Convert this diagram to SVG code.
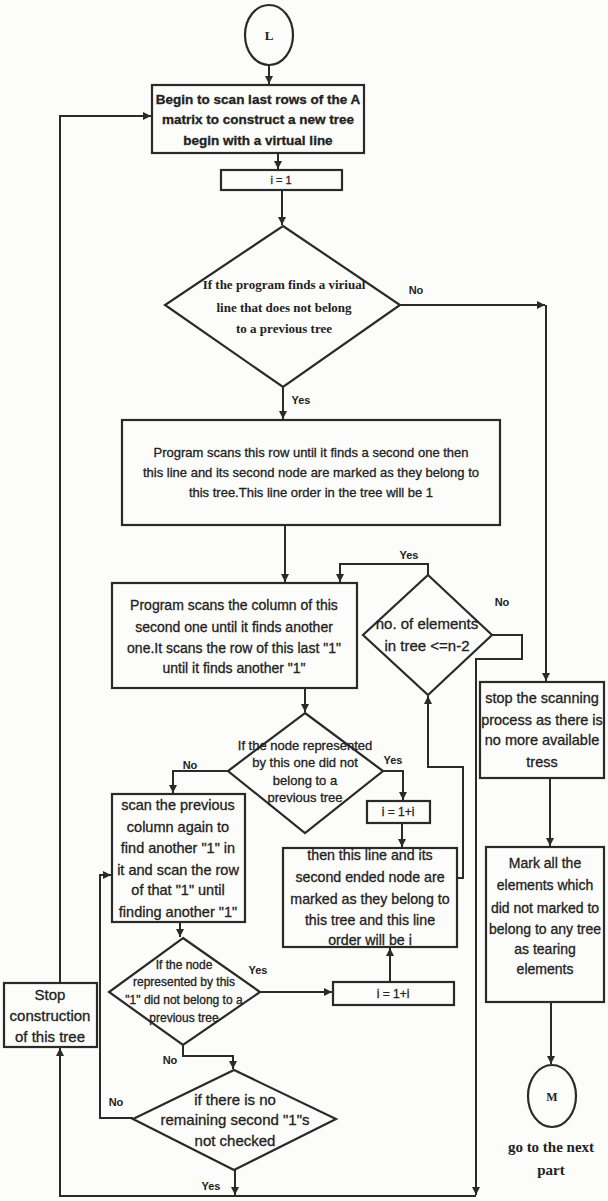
<svg xmlns="http://www.w3.org/2000/svg" width="608" height="1201" viewBox="0 0 608 1201">
<defs>
<marker id="ah" markerUnits="userSpaceOnUse" markerWidth="9" markerHeight="8" refX="8" refY="4" orient="auto">
<path d="M0,0 L8,4 L0,8 Z" fill="#2a2a2a"/>
</marker>
<style>
.bx{fill:none;stroke:#2a2a2a;stroke-width:2.2}
.ln{fill:none;stroke:#2a2a2a;stroke-width:2}
.t{font-family:"Liberation Sans",Arial,sans-serif;fill:#222;text-anchor:middle;stroke:#222;stroke-width:0.3}
.b{font-weight:bold}
.sf{font-family:"Liberation Serif","Times New Roman",serif;font-weight:bold;fill:#222;text-anchor:middle}
.lb{font-family:"Liberation Sans",Arial,sans-serif;font-weight:bold;font-size:11px;fill:#222;text-anchor:middle}
</style>
</defs>
<rect width="608" height="1201" fill="#fcfcfa"/>

<g id="connectors">
<path class="ln" d="M269,65 V84" marker-end="url(#ah)"/>
<path class="ln" d="M278,153 V169" marker-end="url(#ah)"/>
<path class="ln" d="M282,190 V225" marker-end="url(#ah)"/>
<path class="ln" d="M400,305 H545" marker-end="url(#ah)"/>
<path class="ln" d="M546,305 V681" marker-end="url(#ah)"/>
<path class="ln" d="M283,387 V419" marker-end="url(#ah)"/>
<path class="ln" d="M285,525 V582" marker-end="url(#ah)"/>
<path class="ln" d="M428,575 V564 H340 V582" marker-end="url(#ah)"/>
<path class="ln" d="M492,635 H522 V659 H476 V1195" marker-end="url(#ah)"/>
<path class="ln" d="M305,688 V712" marker-end="url(#ah)"/>
<path class="ln" d="M228,771 H173 V793" marker-end="url(#ah)"/>
<path class="ln" d="M383,771 H403 V800" marker-end="url(#ah)"/>
<path class="ln" d="M402,823 V847" marker-end="url(#ah)"/>
<path class="ln" d="M457,878 H463 V767 H428 V696" marker-end="url(#ah)"/>
<path class="ln" d="M550,778 V846" marker-end="url(#ah)"/>
<path class="ln" d="M551,1002 V1064" marker-end="url(#ah)"/>
<path class="ln" d="M180,922 V937" marker-end="url(#ah)"/>
<path class="ln" d="M260,992 H332" marker-end="url(#ah)"/>
<path class="ln" d="M390,982 V948" marker-end="url(#ah)"/>
<path class="ln" d="M183,1045 V1056 H233 V1069" marker-end="url(#ah)"/>
<path class="ln" d="M133,1118 H100 V875 H111" marker-end="url(#ah)"/>
<path class="ln" d="M235,1170 V1195" marker-end="url(#ah)"/>
<path class="ln" d="M476,1196 H60 V1048" marker-end="url(#ah)"/>
<path class="ln" d="M60,983 V116 H151" marker-end="url(#ah)"/>
<text class="lb" x="416" y="294">No</text>
<text class="lb" x="301" y="404">Yes</text>
<text class="lb" x="409" y="559">Yes</text>
<text class="lb" x="502" y="606">No</text>
<text class="lb" x="190" y="769">No</text>
<text class="lb" x="393" y="764">Yes</text>
<text class="lb" x="258" y="974">Yes</text>
<text class="lb" x="170" y="1064">No</text>
<text class="lb" x="116" y="1106">No</text>
<text class="lb" x="211" y="1190">Yes</text>
</g>

<g id="start-L">
<ellipse class="bx" cx="269" cy="35" rx="24" ry="30"/>
<text class="sf" x="269" y="40" font-size="13">L</text>
</g>

<g id="begin-scan">
<rect class="bx" x="152" y="85" width="212" height="68"/>
<text class="t b" font-size="13.5" x="258" y="104">Begin to scan last rows of the A</text>
<text class="t b" font-size="13.5" x="258" y="124">matrix to construct a new tree</text>
<text class="t b" font-size="13.5" x="258" y="145">begin with a virtual line</text>
</g>

<g id="i-init">
<rect class="bx" x="221" y="170" width="121" height="20"/>
<text class="t" font-size="11" x="281" y="184">i = 1</text>
</g>

<g id="find-virtual">
<polygon class="bx" points="283,226 400,305 283,387 165,305"/>
<text class="sf" font-size="13" x="284" y="289">If the program finds a viriual</text>
<text class="sf" font-size="13" x="284" y="312">line that does not belong</text>
<text class="sf" font-size="13" x="284" y="333">to a previous tree</text>
</g>

<g id="scan-row">
<rect class="bx" x="122" y="420" width="378" height="105"/>
<text class="t" font-size="13" x="311" y="457">Program scans this row until it finds a second one then</text>
<text class="t" font-size="13" x="311" y="477">this line and its second node are marked as they belong to</text>
<text class="t" font-size="13" x="311" y="497">this tree.This line order in the tree will be 1</text>
</g>

<g id="scan-column">
<rect class="bx" x="112" y="583" width="245" height="105"/>
<text class="t" font-size="14" x="234" y="610">Program scans the column of this</text>
<text class="t" font-size="14" x="234" y="632">second one until it finds another</text>
<text class="t" font-size="14" x="234" y="653">one.It scans the row of this last "1"</text>
<text class="t" font-size="14" x="234" y="673">until it finds another "1"</text>
</g>

<g id="count-check">
<polygon class="bx" points="428,575 492,635 428,695 363,635"/>
<text class="t" font-size="15" x="427" y="629">no. of elements</text>
<text class="t" font-size="15" x="427" y="651">in tree &lt;=n-2</text>
</g>

<g id="stop-scanning">
<rect class="bx" x="480" y="682" width="124" height="96"/>
<text class="t" font-size="14.5" x="542" y="703">stop the scanning</text>
<text class="t" font-size="14.5" x="542" y="725">process as there is</text>
<text class="t" font-size="14.5" x="542" y="745">no more available</text>
<text class="t" font-size="14.5" x="542" y="767">tress</text>
</g>

<g id="node-check">
<polygon class="bx" points="305,713 383,771 305,833 228,771"/>
<text class="t" font-size="13" x="305" y="750">If the node represented</text>
<text class="t" font-size="13" x="305" y="767">by this one did not</text>
<text class="t" font-size="13" x="305" y="785">belong to a</text>
<text class="t" font-size="13" x="305" y="802">previous tree</text>
</g>

<g id="i-inc-1">
<rect class="bx" x="367" y="801" width="63" height="22"/>
<text class="t" font-size="12" x="398" y="816">i = 1+i</text>
</g>

<g id="mark-line">
<rect class="bx" x="283" y="848" width="174" height="99"/>
<text class="t" font-size="14.2" x="370" y="860">then this line and its</text>
<text class="t" font-size="14.2" x="370" y="882">second ended node are</text>
<text class="t" font-size="14.2" x="370" y="904">marked as they belong to</text>
<text class="t" font-size="14.2" x="370" y="925">this tree and this line</text>
<text class="t" font-size="14.2" x="370" y="945">order will be i</text>
</g>

<g id="scan-previous">
<rect class="bx" x="112" y="794" width="133" height="128"/>
<text class="t" font-size="14.5" x="178" y="810">scan the previous</text>
<text class="t" font-size="14.5" x="178" y="832">column again to</text>
<text class="t" font-size="14.5" x="178" y="853">find another "1" in</text>
<text class="t" font-size="14.5" x="178" y="875">it and scan the row</text>
<text class="t" font-size="14.5" x="178" y="895">of that "1" until</text>
<text class="t" font-size="14.5" x="178" y="917">finding another "1"</text>
</g>

<g id="mark-tearing">
<rect class="bx" x="486" y="847" width="118" height="155"/>
<text class="t" font-size="14" x="545" y="868">Mark all the</text>
<text class="t" font-size="14" x="545" y="890">elements which</text>
<text class="t" font-size="14" x="545" y="913">did not marked to</text>
<text class="t" font-size="14" x="545" y="934">belong to any tree</text>
<text class="t" font-size="14" x="545" y="954">as tearing</text>
<text class="t" font-size="14" x="545" y="974">elements</text>
</g>

<g id="node-check-2">
<polygon class="bx" points="183,938 260,992 183,1045 109,992"/>
<text class="t" font-size="12" x="184" y="969">If the node</text>
<text class="t" font-size="12" x="184" y="986">represented by this</text>
<text class="t" font-size="12" x="184" y="1004">"1" did not belong to a</text>
<text class="t" font-size="12" x="184" y="1022">previous tree</text>
</g>

<g id="i-inc-2">
<rect class="bx" x="333" y="982" width="121" height="23"/>
<text class="t" font-size="12" x="393" y="998">i = 1+i</text>
</g>

<g id="stop-construction">
<rect class="bx" x="4" y="983" width="93" height="64"/>
<text class="t" font-size="15" x="50" y="1000">Stop</text>
<text class="t" font-size="15" x="50" y="1021">construction</text>
<text class="t" font-size="15" x="50" y="1042">of this tree</text>
</g>

<g id="remaining-check">
<polygon class="bx" points="234,1070 336,1119 234,1170 133,1119"/>
<text class="t" font-size="15" x="235" y="1105">if there is no</text>
<text class="t" font-size="15" x="235" y="1125">remaining second "1"s</text>
<text class="t" font-size="15" x="235" y="1146">not checked</text>
</g>

<g id="end-M">
<ellipse class="bx" cx="552" cy="1096" rx="24" ry="31"/>
<text class="sf" font-size="12" x="552" y="1101">M</text>
<text class="sf" font-size="15" x="551" y="1152">go to the next</text>
<text class="sf" font-size="15" x="551" y="1175">part</text>
</g>
</svg>
